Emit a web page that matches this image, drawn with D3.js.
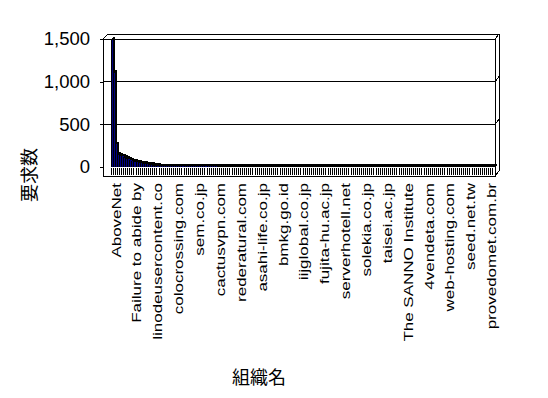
<!DOCTYPE html>
<html>
<head>
<meta charset="utf-8">
<script src="https://cdn.jsdelivr.net/npm/d3@7"></script>
<style>
  body { margin: 0; background: #fff; }
  svg { display: block; }
</style>
</head>
<body>
<div id="chart"></div>
<script>
// 要求数 per organisation (sorted, long tail)
var values = [
  1500, 1110, 275, 150, 140, 130, 112, 102, 94, 86,
  76, 70, 60, 58, 48, 46, 43, 41, 32, 30,
  22, 21, 20, 16, 16, 15, 15, 15, 15, 15,
  14, 14, 14, 14, 14, 14, 14, 13, 13, 13,
  13, 13, 13, 13, 13, 12, 12, 12, 12, 12,
  12, 11, 11, 11, 11, 11, 11, 11, 11, 11,
  11, 11, 11, 11, 11, 11, 11, 11, 11, 11,
  11, 10, 10, 10, 10, 10, 10, 10, 10, 10,
  10, 10, 10, 10, 10, 10, 10, 10, 10, 10,
  10, 10, 10, 10, 10, 10, 9, 9, 9, 9,
  9, 9, 9, 9, 9, 9, 9, 9, 9, 9,
  9, 9, 9, 9, 9, 9, 9, 9, 9, 9,
  9, 8, 8, 8, 8, 8, 8, 8, 8, 8,
  8, 8, 8, 8, 8, 8, 8, 8, 8, 8,
  8, 8, 8, 8, 8, 8, 7, 7, 7, 7,
  7, 7, 7, 7, 7, 7, 7, 7, 7, 7,
  7, 7, 7, 7, 7, 7, 6, 6, 6, 6,
  6, 6, 6, 6, 6, 6, 6, 6, 6, 6,
  6, 6, 6, 6
];
// only every 10th organisation name is printed on the axis
var tickNames = [
  "AboveNet", "Failure to abide by", "linodeusercontent.co", "colocrossing.com",
  "sem.co.jp", "cactusvpn.com", "rederatural.com", "asahi-life.co.jp",
  "bmkg.go.id", "iijglobal.co.jp", "fujita-hu.ac.jp", "serverhotell.net",
  "solekia.co.jp", "taisei.ac.jp", "The SANNO Institute", "4vendeta.com",
  "web-hosting.com", "seed.net.tw", "provedomet.com.br"
];
var tickStep = 10;
var yTicks = [0, 500, 1000, 1500];
var yTitle = "要求数";
var xTitle = "組織名";

var svg = d3.select("#chart")
    .append("svg")
    .attr("width", 548)
    .attr("height", 398);

var left = 103, right = 495, floorY = 176;
var depthX = 4, depthY = 5;   // back wall offset
var barDX = 2, barDY = 2;     // bar depth

var x = d3.scaleBand()
    .domain(d3.range(values.length))
    .range([111, right])
    .padding(0);
var y = d3.scaleLinear()
    .domain([0, 1500])
    .range([167, 39]);
var bw = x.bandwidth();

var frame = svg.append("g")
    .attr("fill", "none")
    .attr("stroke", "#000")
    .attr("stroke-width", 1)
    .attr("shape-rendering", "crispEdges");

// back wall outline
frame.append("polyline")
    .attr("points", [[left, y(1500)], [left + 5, y(1500) - depthY], [right + depthX, y(1500) - depthY],
                     [right + depthX, floorY - depthY], [right, floorY]].join(" "));

// gridlines with their little depth stub on the right
yTicks.filter(function (d) { return d > 0; }).forEach(function (d) {
    frame.append("polyline")
        .attr("points", [[left, y(d)], [right, y(d)], [right + depthX, y(d) - depthY]].join(" "));
});

// front edges
frame.append("polyline")
    .attr("points", [[left, y(1500)], [left, floorY], [right, floorY], [right, y(1500)]].join(" "));

// category ticks on the floor
svg.append("g")
    .selectAll("line")
    .data(d3.range(values.length + 1))
    .enter().append("line")
    .attr("x1", function (i) { return i < values.length ? x(i) : right; })
    .attr("x2", function (i) { return i < values.length ? x(i) : right; })
    .attr("y1", 168)
    .attr("y2", 175)
    .attr("stroke", "#000")
    .attr("shape-rendering", "crispEdges");

// bars, left to right so each front covers the previous side face
var bars = svg.append("g").attr("shape-rendering", "crispEdges");
values.forEach(function (v, i) {
    var x0 = x(i), x1 = x0 + bw, yt = y(v), yb = y(0);
    bars.append("polygon")
        .attr("points", [[x0, yt], [x0 + barDX, yt - barDY], [x1 + barDX, yt - barDY],
                         [x1 + barDX, yb - barDY], [x1, yb], [x1, yt]].join(" "))
        .attr("fill", "#000");
    bars.append("rect")
        .attr("x", x0)
        .attr("y", yt)
        .attr("width", bw)
        .attr("height", yb - yt)
        .attr("fill", "#000080");
    bars.append("line")
        .attr("x1", x0).attr("x2", x0)
        .attr("y1", yt).attr("y2", yb)
        .attr("stroke", "#000");
    bars.append("line")
        .attr("x1", x0).attr("x2", x1)
        .attr("y1", yt).attr("y2", yt)
        .attr("stroke", "#000");
});

// value axis
var yAxis = svg.append("g")
    .attr("transform", "translate(" + left + ",0)")
    .call(d3.axisLeft(y).tickValues(yTicks).tickSize(3).tickPadding(10).tickFormat(d3.format(",")));
yAxis.select(".domain").remove();
yAxis.selectAll("line").attr("shape-rendering", "crispEdges");
yAxis.selectAll("text")
    .attr("font-family", "'Liberation Sans', Arial, sans-serif")
    .attr("font-size", "18.5px")
    .attr("fill", "#000");

// category labels
svg.append("g")
    .selectAll("text")
    .data(tickNames)
    .enter().append("text")
    .attr("transform", function (d, k) {
        var cx = x(k * tickStep) + bw / 2;
        return "translate(" + (cx + 8.5) + ",183) rotate(-90) scale(1,0.75)";
    })
    .attr("text-anchor", "end")
    .attr("font-family", "'Liberation Sans', Arial, sans-serif")
    .attr("font-size", "17px")
    .attr("fill", "#000")
    .text(function (d) { return d; });

// axis titles
svg.append("text")
    .attr("transform", "translate(27.5,175) rotate(-90)")
    .attr("text-anchor", "middle")
    .attr("dominant-baseline", "central")
    .attr("font-family", "'Noto Sans CJK JP', sans-serif")
    .attr("font-size", "18px")
    .attr("fill", "#000")
    .text(yTitle);

svg.append("text")
    .attr("x", 259)
    .attr("y", 376)
    .attr("text-anchor", "middle")
    .attr("dominant-baseline", "central")
    .attr("font-family", "'Noto Sans CJK JP', sans-serif")
    .attr("font-size", "18px")
    .attr("fill", "#000")
    .text(xTitle);
</script>
</body>
</html>
